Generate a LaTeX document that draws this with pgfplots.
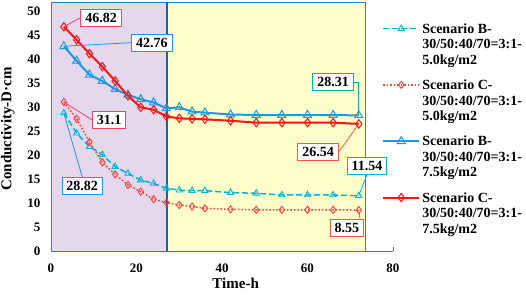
\documentclass[border=0pt]{standalone}
\usepackage{fontspec}
\setmainfont{Liberation Serif}
\usepackage{pgfplots}
\pgfplotsset{compat=1.18}
\definecolor{blueS}{RGB}{25,155,225}
\definecolor{cyanD}{RGB}{0,180,215}
\definecolor{redS}{RGB}{250,20,20}
\definecolor{redD}{RGB}{255,60,60}
\definecolor{pinkB}{RGB}{235,70,100}
\definecolor{orangeB}{RGB}{240,90,60}
\definecolor{tealB}{RGB}{0,180,170}
\definecolor{purpleBg}{RGB}{229,215,236}
\definecolor{yellowBg}{RGB}{255,255,204}
\definecolor{boxBlue}{RGB}{45,125,185}
\definecolor{vline}{RGB}{25,100,160}
\definecolor{axgray}{RGB}{110,110,110}
\newcommand\ff{\fontsize{13}{15}\selectfont\bfseries}
\newcommand\fl{\fontsize{15}{17}\selectfont\bfseries}
\newcommand\fg{\fontsize{14}{15.5}\selectfont\bfseries}
\newcommand\fa{\fontsize{14}{16}\selectfont\bfseries}
\tikzset{lbl/.style={draw=#1, fill=white, line width=0.9pt, font=\fa, inner xsep=4.5pt, inner ysep=3.8pt, text=black}}
\begin{document}
\begin{tikzpicture}
\begin{axis}[name=ax, scale only axis, width=342pt, height=249pt,
  xmin=0, xmax=80, ymin=0, ymax=52,
  xtick={0,20,...,80}, ytick={0,5,...,50},
  axis x line=bottom, axis y line=left,
  axis line style={-, draw=axgray, line width=0.8pt},
  tick style={axgray, line width=0.8pt}, major tick length=4pt, tick align=inside,
  clip=false, set layers,
  /pgf/number format/assume math mode=true,
  ticklabel style={font=\ff},
  xticklabel style={yshift=-9pt},
  yticklabel style={xshift=-7pt},
  xlabel={Time-h}, ylabel={Conductivity-D·cm},
  label style={font=\fl},
  xlabel style={at={(axis description cs:0.54,-0.128)}, anchor=center},
  ylabel style={at={(axis description cs:-0.126,0.49)}, anchor=center},
  legend style={draw=none, fill=none, at={(axis description cs:0.968,0.927)}, anchor=north west,
    font=\fg, row sep=40pt, inner sep=0pt, cells={anchor=west}},
  legend cell align=left,
  legend image code/.code={\draw[mark repeat=2,mark phase=2] plot coordinates {(0pt,0pt) (18pt,0pt) (36pt,0pt)};},
]
% backgrounds
\fill[purpleBg, on layer=axis background] (axis cs:0,0) rectangle (axis cs:27.1,52);
\fill[yellowBg, on layer=axis background] (axis cs:27.1,0) rectangle (axis cs:73.6,52);
\draw[boxBlue, line width=0.9pt] (axis cs:0,0) rectangle (axis cs:27.1,52);
\draw[boxBlue, line width=0.9pt] (axis cs:27.1,0) rectangle (axis cs:73.6,52);
\draw[vline, line width=2.2pt] (axis cs:27.1,0) -- (axis cs:27.1,52);

\addplot[cyanD, line width=1.5pt, dash pattern=on 6pt off 3pt, mark=triangle, mark size=3.6pt, mark options={solid, line width=0.9pt}] coordinates {
(3,28.82) (6,24.6) (9,21.8) (12,20.1) (15,17.6) (18,16.2) (21,14.8) (24,14.1) (27,13.1) (30,12.7) (33,12.6) (36,12.6) (42,12.2) (48,12.05) (54,11.7) (60,11.7) (66,11.7) (72,11.54)};
\addlegendentry{\begin{tabular}[t]{@{}l@{}}Scenario B-\\30/50:40/70=3:1-\\5.0kg/m2\end{tabular}}

\addplot[redD, line width=1.5pt, dash pattern=on 1.5pt off 2pt, mark=diamond, mark size=3.6pt, mark options={solid, line width=0.9pt}] coordinates {
(3,31.1) (6,27.6) (9,22.8) (12,18.5) (15,16.0) (18,13.8) (21,12.4) (24,10.8) (27,10.1) (30,9.6) (33,9.3) (36,8.9) (42,8.7) (48,8.6) (54,8.6) (60,8.6) (66,8.6) (72,8.55)};
\addlegendentry{\begin{tabular}[t]{@{}l@{}}Scenario C-\\30/50:40/70=3:1-\\5.0kg/m2\end{tabular}}

\addplot[blueS, line width=2pt, mark=triangle, mark size=4.6pt, mark options={solid, line width=1pt}] coordinates {
(3,42.76) (6,39.7) (9,36.8) (12,35.5) (15,33.8) (18,32.6) (21,31.7) (24,31.0) (27,29.8) (30,30.0) (33,29.1) (36,28.9) (42,28.5) (48,28.4) (54,28.4) (60,28.4) (66,28.4) (72,28.31)};
\addlegendentry{\begin{tabular}[t]{@{}l@{}}Scenario B-\\30/50:40/70=3:1-\\7.5kg/m2\end{tabular}}

\addplot[redS, line width=2pt, mark=diamond, mark size=4.2pt, mark options={solid, line width=1pt}] coordinates {
(3,46.82) (6,44.1) (9,41.2) (12,38.5) (15,35.5) (18,32.4) (21,30.0) (24,29.5) (27,28.1) (30,27.7) (33,27.6) (36,27.5) (42,27.2) (48,26.8) (54,26.8) (60,26.8) (66,26.8) (72,26.54)};
\addlegendentry{\begin{tabular}[t]{@{}l@{}}Scenario C-\\30/50:40/70=3:1-\\7.5kg/m2\end{tabular}}

% annotations
\node[lbl=pinkB] (l1) at (axis cs:11.7,48.7) {46.82};
\draw[pinkB, line width=0.8pt] (axis cs:3,46.82) -- (l1.west);
\node[lbl=blueS] (l2) at (axis cs:23.6,43.5) {42.76};
\draw[blueS, line width=0.8pt] (axis cs:3,42.76) -- (l2.west);
\node[lbl=pinkB] (l3) at (axis cs:13.6,27.4) {31.1};
\draw[pinkB, line width=0.8pt] (axis cs:3,31.1) -- (l3.west);
\node[lbl=blueS] (l4) at (axis cs:7.3,13.6) {28.82};
\draw[blueS, line width=0.8pt] (axis cs:3,28.82) -- (l4.north);
\node[lbl=tealB] (l5) at (axis cs:66.0,35.3) {28.31};
\draw[tealB, line width=0.8pt] (l5.east) -| (axis cs:72,28.31);
\node[lbl=orangeB] (l6) at (axis cs:62.5,20.7) {26.54};
\draw[orangeB, line width=0.8pt] (l6.east) -- (axis cs:72,26.54);
\node[lbl=cyanD] (l7) at (axis cs:73.9,17.8) {11.54};
\draw[cyanD, line width=0.8pt] (l7.south) -- (axis cs:72,11.54);
\node[lbl=orangeB] (l8) at (axis cs:69.2,4.8) {8.55};
\draw[orangeB, line width=0.8pt] ([xshift=-4pt]l8.north east) -- (axis cs:72,8.55);
\end{axis}
\pgfresetboundingbox
\path ([shift={(-51pt,-45pt)}]ax.south west) rectangle ([shift={(133pt,2pt)}]ax.north east);
\end{tikzpicture}
\end{document}
